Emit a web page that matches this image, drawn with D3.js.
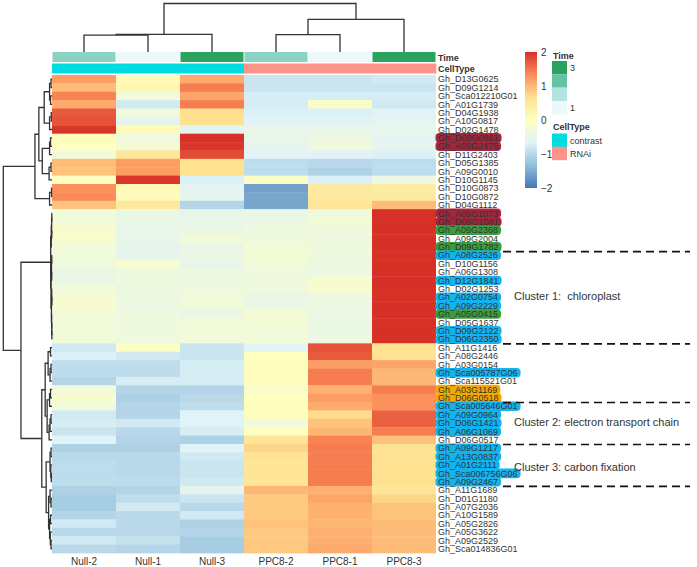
<!DOCTYPE html>
<html lang="en">
<head>
<meta charset="UTF-8">
<title>PPC8 heatmap</title>
<script src="https://d3js.org/d3.v7.min.js"></script>
<style>
  body { margin: 0; background: #fff; font-family: "Liberation Sans", Arial, sans-serif; }
  text { fill: #333; }
  .dendro { fill: none; stroke: #333; stroke-width: 1.3; }
</style>
</head>
<body>
<svg width="697" height="567"></svg>
<script>
// samples, in the order they are drawn
var columns = ["Null-2", "Null-1", "Null-3", "PPC8-2", "PPC8-1", "PPC8-3"];
var timeValues = [2, 1, 3, 2, 1, 3];
var cellTypes = ["contrast", "contrast", "contrast", "RNAi", "RNAi", "RNAi"];

var genes = [
  "Gh_D13G0625", "Gh_D09G1214", "Gh_Sca012210G01", "Gh_A01G1739", "Gh_D04G1938", "Gh_A10G0817",
  "Gh_D02G1478", "Gh_D09G0861", "Gh_A09G2475", "Gh_D11G2403", "Gh_D05G1385", "Gh_A09G0010",
  "Gh_D10G1145", "Gh_D10G0873", "Gh_D10G0872", "Gh_D04G1112", "Gh_A09G1073", "Gh_D09G1081",
  "Gh_A09G2368", "Gh_A09G2004", "Gh_D09G1782", "Gh_A08G2526", "Gh_D10G1156", "Gh_A06G1308",
  "Gh_D12G1841", "Gh_D02G1253", "Gh_A02G0754", "Gh_A09G2229", "Gh_A05G0415", "Gh_D05G1637",
  "Gh_D09G2122", "Gh_D06G2350", "Gh_A11G1416", "Gh_A08G2446", "Gh_A03G0154", "Gh_Sca005787G06",
  "Gh_Sca115521G01", "Gh_A03G1169", "Gh_D06G0518", "Gh_Sca005646G01", "Gh_A09G0964", "Gh_D06G1421",
  "Gh_A06G1069", "Gh_D06G0517", "Gh_A09G1217", "Gh_A13G0837", "Gh_A01G2111", "Gh_Sca006756G06",
  "Gh_A09G2467", "Gh_A11G1689", "Gh_D01G1180", "Gh_A07G2036", "Gh_A10G1589", "Gh_A05G2826",
  "Gh_A05G3622", "Gh_A09G2529", "Gh_Sca014836G01"
];

// row-scaled expression, one array per sample
var null2 = [1.2, 0.95, 1.4, 1.1, 1.7, 1.75, 1.95, 0.05, 0.0, -0.3, 0.95, 0.9, 0.0, 1.3, 1.35, 0.9,
  -0.3, -0.3, -0.15, -0.15, -0.3, -0.3, -0.35, -0.45, -0.45, -0.3, -0.2, -0.2, -0.3, -0.3, -0.3, -0.3,
  -0.8, -0.7, -0.95, -0.95, -1.05, -0.3, -0.2, -0.3, -0.8, -0.75, -0.85, -0.65, -1.1, -1.0,
  -0.95, -0.95, -0.95, -1.1, -1.15, -1.15, -1.05, -0.8, -1.0, -0.8, -1.0];
var null1 = [0.1, 0.2, -0.3, -0.8, -0.35, -0.55, 0.1, -0.35, -0.25, 0.55, 1.2, 1.2, 1.95, 0.1, 0.1, 0.5,
  -0.45, -0.45, -0.5, -0.5, -0.55, -0.55, -0.2, -0.35, -0.35, -0.4, -0.4, -0.4, -0.35, -0.35, -0.35, -0.35,
  -0.05, -0.8, -0.95, -0.95, -0.75, -1.05, -1.1, -1.05, -1.05, -0.8, -1.0, -1.05, -1.1, -1.0,
  -1.0, -1.0, -0.95, -1.05, -0.95, -0.8, -1.0, -1.0, -1.0, -0.9, -1.05];
var null3 = [1.1, 1.45, 1.15, 1.45, 0.67, 0.65, -0.6, 2.0, 1.95, 1.8, 0.65, 0.65, -0.7, -0.6, -0.55, -1.05,
  -0.5, -0.5, -0.45, -0.3, -0.45, -0.45, -0.5, -0.4, -0.4, -0.35, -0.3, -0.3, -0.45, -0.3, -0.3, -0.3,
  -0.85, -0.85, -0.75, -0.75, -0.75, -1.05, -1.0, -0.95, -0.65, -0.65, -0.75, -1.1, -0.65, -0.8,
  -0.85, -0.85, -0.8, -0.55, -0.85, -1.0, -0.8, -1.1, -1.05, -1.15, -1.15];
var ppc82 = [-0.85, -0.85, -0.75, -0.75, -0.7, -0.65, -0.5, -0.5, -0.55, -0.65, -0.95, -0.95, -0.05, -1.6, -1.55, -1.55,
  -0.45, -0.45, -0.35, -0.35, -0.25, -0.25, -0.3, -0.35, -0.35, -0.35, -0.45, -0.45, -0.25, -0.25, -0.3, -0.3,
  -0.6, 0.0, 0.05, 0.05, 0.05, -0.15, 0.0, 0.05, 0.05, -0.3, -0.05, 0.55, 0.75, 0.6,
  0.55, 0.55, 0.55, 1.0, 0.85, 0.85, 0.85, 0.9, 0.85, 0.85, 0.85];
var ppc81 = [-0.85, -0.85, -0.75, -0.1, -0.7, -0.65, -0.5, -0.4, -0.35, -0.65, -1.0, -1.1, -0.7, 0.45, 0.45, 0.55,
  -0.35, -0.25, -0.35, -0.35, -0.35, -0.35, -0.4, -0.4, -0.2, -0.2, -0.4, -0.4, -0.4, -0.45, -0.45, -0.4,
  1.75, 1.7, 1.2, 1.45, 1.45, 1.05, 1.2, 1.1, 0.7, 0.9, 1.0, 1.4, 1.45, 1.45,
  1.45, 1.45, 1.45, 1.05, 1.15, 1.05, 1.05, 1.0, 1.05, 1.05, 1.1];
var ppc83 = [-0.8, -0.85, -0.75, -0.8, -0.65, -0.6, -0.5, -0.6, -0.55, -0.7, -0.95, -0.95, -0.4, 0.4, 0.45, 0.95,
  2.0, 2.0, 2.0, 2.0, 2.0, 2.0, 2.0, 2.0, 2.0, 2.0, 2.0, 2.0, 2.0, 2.0, 2.0, 2.0,
  0.65, 0.6, 1.15, 1.0, 1.0, 1.45, 1.3, 1.3, 1.65, 1.65, 1.45, 0.9, 0.6, 0.65,
  0.65, 0.65, 0.65, 0.55, 0.75, 0.9, 0.9, 0.95, 0.95, 0.95, 0.95];
var series = [null2, null1, null3, ppc82, ppc81, ppc83];

// dendrograms: [height, left, right], leaves are indices
var colTree = [1, [0.365, [0.35, 0, 1], 2], [0.674, [0.357, 3, 4], 5]];
var rowTree = [1,
  [0.35,
    [0.27,
      [0.16, [0.05, [0.02, 0, 1], [0.03, 2, 3]], [0.05, [0.015, 4, 5], 6]],
      [0.2, [0.05, [0.03, 7, 8], 9], [0.06, [0.02, 10, 11], 12]]],
    [0.05, [0.01, 13, 14], 15]],
  [0.637,
    [0.027,
      [0.015, [0.008, [0.004, 16, 17], [0.005, 18, 19]], 20],
      [0.02, [0.01, [0.005, 21, 22], [0.006, 23, 24]],
        [0.012, [0.006, 25, [0.003, 26, 27]], [0.008, 28, [0.004, 29, [0.002, 30, 31]]]]]],
    [0.21,
      [0.14, [0.08, [0.03, 32, 33], [0.04, [0.02, 34, 35], 36]],
        [0.1, [0.05, [0.03, 37, 38], 39], [0.06, [0.04, [0.02, 40, 41], 42], 43]]],
      [0.12, [0.04, [0.02, 44, 45], [0.025, 46, [0.015, 47, 48]]],
        [0.07, [0.04, 49, [0.02, 50, 51]], [0.05, [0.03, 52, 53], [0.035, 54, [0.02, 55, 56]]]]]]]];

// highlighted gene labels
var darkRedGenes = ["Gh_D09G0861", "Gh_A09G2475", "Gh_A09G1073", "Gh_D09G1081"];
var greenGenes = ["Gh_A09G2368", "Gh_D09G1782", "Gh_A05G0415"];
var blueGenes = ["Gh_A08G2526", "Gh_D12G1841", "Gh_A02G0754", "Gh_A09G2229", "Gh_D09G2122", "Gh_D06G2350",
  "Gh_Sca005787G06", "Gh_Sca005646G01", "Gh_A09G0964", "Gh_D06G1421", "Gh_A06G1069", "Gh_A09G1217",
  "Gh_A13G0837", "Gh_A01G2111", "Gh_Sca006756G06", "Gh_A09G2467"];
var orangeGenes = ["Gh_A03G1169", "Gh_D06G0518"];

// cluster notes: dashed lines after these row counts, labels at row positions
var clusterBreaks = [21, 32, 39, 44, 49];
var clusterLabels = ["Cluster 1:  chloroplast", "Cluster 2: electron transport chain", "Cluster 3: carbon fixation"];
var clusterLabelRows = [26.4, 41.4, 46.7];

var legendTicks = [-2, -1, 0, 1, 2];
var timeLegend = [3, 2.333, 1.667, 1];

var svg = d3.select("svg");

var x = d3.scaleBand().domain(columns).range([52, 436]);
var y = d3.scaleBand().domain(genes).range([75, 553]);
var rowStep = y.step();

var color = d3.scaleLinear()
  .domain([-2, -1.333, -0.667, 0, 0.667, 1.333, 2])
  .range(["#4575B4", "#91BFDB", "#E0F3F8", "#FFFFBF", "#FEE090", "#FC8D59", "#D73027"])
  .clamp(true);
var timeColor = d3.scaleLinear().domain([1, 1.667, 2.333, 3])
  .range(["#edf8fb", "#b2e2e2", "#66c2a4", "#2ca25f"]);
var typeColor = d3.scaleOrdinal().domain(["contrast", "RNAi"]).range(["#00DDE0", "#FF9289"]);

// heatmap cells
var cells = [];
genes.forEach(function(g, i) {
  columns.forEach(function(c, j) { cells.push({ gene: g, col: c, v: series[j][i] }); });
});
svg.append("g").selectAll("rect").data(cells).enter().append("rect")
  .attr("x", function(d) { return x(d.col); })
  .attr("y", function(d) { return y(d.gene); })
  .attr("width", x.bandwidth())
  .attr("height", y.bandwidth() + 0.4)
  .attr("fill", function(d) { return color(d.v); });

// annotation bars
svg.append("g").selectAll("rect").data(columns).enter().append("rect")
  .attr("x", function(d) { return x(d) + 0.5; })
  .attr("y", 52)
  .attr("width", x.bandwidth() - 1)
  .attr("height", 10)
  .attr("fill", function(d, i) { return timeColor(timeValues[i]); });
svg.append("g").selectAll("rect").data(columns).enter().append("rect")
  .attr("x", function(d) { return x(d); })
  .attr("y", 63.5)
  .attr("width", x.bandwidth() + 0.3)
  .attr("height", 10)
  .attr("fill", function(d, i) { return typeColor(cellTypes[i]); });
svg.append("text").attr("x", 438).attr("y", 60.5).style("font-size", "9px").style("font-weight", "bold").text("Time");
svg.append("text").attr("x", 438).attr("y", 71.5).style("font-size", "9px").style("font-weight", "bold").text("CellType");

// dendrograms
function drawTree(g, node, leafPos, toXY) {
  if (typeof node === "number") return { p: leafPos(node), h: 0 };
  var a = drawTree(g, node[1], leafPos, toXY);
  var b = drawTree(g, node[2], leafPos, toXY);
  var h = node[0];
  var pts = [[a.p, a.h], [a.p, h], [b.p, h], [b.p, b.h]].map(function(q) { return toXY(q[0], q[1]); });
  g.append("path").attr("class", "dendro").attr("d", d3.line()(pts));
  return { p: (a.p + b.p) / 2, h: h };
}
var colH = d3.scaleLinear().domain([0, 1]).range([52, 3.5]);
var rowH = d3.scaleLinear().domain([0, 1]).range([52, 3.3]);
drawTree(svg.append("g"), colTree,
  function(i) { return x(columns[i]) + x.bandwidth() / 2; },
  function(p, h) { return [p, colH(h)]; });
drawTree(svg.append("g"), rowTree,
  function(i) { return y(genes[i]) + y.bandwidth() / 2; },
  function(p, h) { return [rowH(h), p]; });

// row labels with highlights
var hlGroup = svg.append("g");
var labels = svg.append("g").selectAll("text").data(genes).enter().append("text")
  .attr("x", 438)
  .attr("y", function(d) { return y(d) + y.bandwidth() / 2 + 3.2; })
  .style("font-size", "9px")
  .text(function(d) { return d; });
function hlColor(g) {
  if (darkRedGenes.indexOf(g) >= 0) return "#a3263c";
  if (greenGenes.indexOf(g) >= 0) return "#3a9e3e";
  if (blueGenes.indexOf(g) >= 0) return "#12b4ef";
  if (orangeGenes.indexOf(g) >= 0) return "#f2a800";
  return null;
}
labels.each(function(d) {
  var c = hlColor(d);
  if (!c) return;
  var w = this.getComputedTextLength();
  hlGroup.append("rect")
    .attr("x", 435.5).attr("y", y(d) - 0.6)
    .attr("width", w + 5.5).attr("height", rowStep + 1.2)
    .attr("rx", 4).attr("fill", c);
});

// column labels
svg.append("g").selectAll("text").data(columns).enter().append("text")
  .attr("x", function(d) { return x(d) + x.bandwidth() / 2; })
  .attr("y", 564.5)
  .attr("text-anchor", "middle")
  .style("font-size", "10px")
  .text(function(d) { return d; });

// cluster annotations
svg.append("g").selectAll("line").data(clusterBreaks).enter().append("line")
  .attr("x1", 503).attr("x2", 690)
  .attr("y1", function(d) { return 75 + d * rowStep + 0.5; })
  .attr("y2", function(d) { return 75 + d * rowStep + 0.5; })
  .attr("stroke", "#111").attr("stroke-width", 1.6).attr("stroke-dasharray", "8,5");
svg.append("g").selectAll("text").data(clusterLabels).enter().append("text")
  .attr("x", 514)
  .attr("y", function(d, i) { return 75 + clusterLabelRows[i] * rowStep + 4; })
  .style("font-size", "11px")
  .style("white-space", "pre")
  .text(function(d) { return d; });

// colour legend
var legY = d3.scaleLinear().domain([-2, 2]).range([188, 52]);
var grad = svg.append("defs").append("linearGradient").attr("id", "legGrad")
  .attr("x1", 0).attr("y1", 1).attr("x2", 0).attr("y2", 0);
color.domain().forEach(function(v) {
  grad.append("stop").attr("offset", (v + 2) / 4).attr("stop-color", color(v));
});
svg.append("rect").attr("x", 525).attr("y", legY(2)).attr("width", 12)
  .attr("height", legY(-2) - legY(2)).attr("fill", "url(#legGrad)");
svg.append("g").selectAll("text").data(legendTicks).enter().append("text")
  .attr("x", 541)
  .attr("y", function(d) { return legY(d) + 3.5; })
  .style("font-size", "10px")
  .text(function(d) { return d3.format("d")(d); });

// Time legend
svg.append("text").attr("x", 553).attr("y", 58.5).style("font-size", "9px").style("font-weight", "bold").text("Time");
svg.append("g").selectAll("rect").data(timeLegend).enter().append("rect")
  .attr("x", 552).attr("y", function(d, i) { return 61 + i * 13.3; })
  .attr("width", 15).attr("height", 13.4)
  .attr("fill", function(d) { return timeColor(d); });
svg.append("text").attr("x", 570).attr("y", 71).style("font-size", "9px").text("3");
svg.append("text").attr("x", 570).attr("y", 111).style("font-size", "9px").text("1");

// CellType legend
var types = typeColor.domain();
svg.append("text").attr("x", 553).attr("y", 130).style("font-size", "9px").style("font-weight", "bold").text("CellType");
svg.append("g").selectAll("rect").data(types).enter().append("rect")
  .attr("x", 552).attr("y", function(d, i) { return 133.5 + i * 13.3; })
  .attr("width", 15).attr("height", 13.4)
  .attr("fill", function(d) { return typeColor(d); });
svg.append("g").selectAll("text").data(types).enter().append("text")
  .attr("x", 570).attr("y", function(d, i) { return 143.5 + i * 13.3; })
  .style("font-size", "9px")
  .text(function(d) { return d; });
</script>
</body>
</html>
